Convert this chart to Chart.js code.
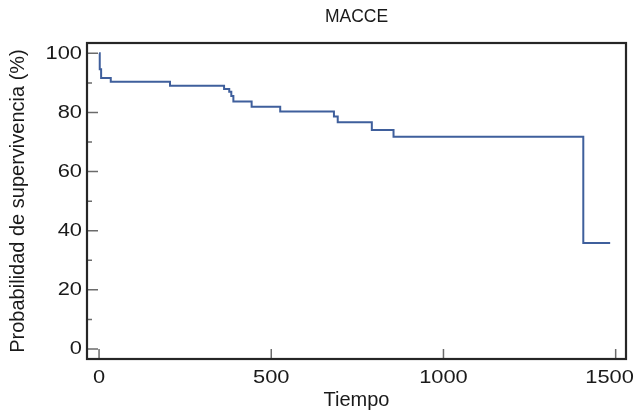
<!DOCTYPE html>
<html>
<head>
<meta charset="utf-8">
<script src="https://cdn.jsdelivr.net/npm/chart.js@4.4.0/dist/chart.umd.min.js"></script>
<style>
  html, body { margin: 0; padding: 0; background: #fff; }
</style>
</head>
<body>
<canvas id="kmChart" width="634" height="412"></canvas>
<script>
const chartTitle = "MACCE";
const xLabel = "Tiempo";
const yLabel = "Probabilidad de supervivencia (%)";

// Kaplan-Meier steps
const times =    [0,   2,    6,    34,   206,  363,  378,  384,  390,  443,  526,  682,  693,  792,  855,  1406, 1484];
const survival = [100, 94.6, 91.7, 90.4, 89.0, 87.9, 87.0, 85.6, 83.7, 81.9, 80.3, 78.6, 76.7, 74.1, 71.8, 35.8, 35.8];

const xTicks = [0, 500, 1000, 1500];
const yTicks = [0, 20, 40, 60, 80, 100];
const yMinorTicks = [10, 30, 50, 70, 90];

const FONT = "'Liberation Sans', Arial, sans-serif";
const TICK_SIZE = 19;   // tick numbers are a bit wide in the picture
const TICK_STRETCH = 1.15;

// keep the plot box where it is in the picture, whatever the label overhang
const noOverhang = s => { s.paddingLeft = 0; s.paddingRight = 0; s.paddingTop = 0; s.paddingBottom = 0; };

// widen the tick numbers only (they are the only text in the 19px font)
const stretchPlugin = {
  id: "stretch",
  beforeDraw(chart) {
    const ctx = chart.ctx;
    if (ctx._stretched) return;
    const fill = ctx.fillText;
    ctx.fillText = function (text, x, y, maxWidth) {
      if (this.font.indexOf(TICK_SIZE + "px") < 0) return fill.call(this, text, x, y, maxWidth);
      this.save();
      this.translate(x, y);
      this.scale(TICK_STRETCH, 1);
      fill.call(this, text, 0, 0);
      this.restore();
    };
    ctx._stretched = true;
  }
};

// frame and inward tick marks
const framePlugin = {
  id: "frame",
  afterDraw(chart) {
    const { ctx, chartArea: a, scales } = chart;
    ctx.save();
    ctx.strokeStyle = "#6b6b6b";
    ctx.lineWidth = 1.5;
    ctx.beginPath();
    yTicks.forEach(v => {
      const y = scales.y.getPixelForValue(v);
      ctx.moveTo(a.left, y);
      ctx.lineTo(a.left + 11, y);
    });
    yMinorTicks.forEach(v => {
      const y = scales.y.getPixelForValue(v);
      ctx.moveTo(a.left, y);
      ctx.lineTo(a.left + 5, y);
    });
    xTicks.forEach(v => {
      const x = scales.x.getPixelForValue(v);
      ctx.moveTo(x, a.bottom);
      ctx.lineTo(x, a.bottom - 10);
    });
    ctx.stroke();
    ctx.strokeStyle = "#262626";
    ctx.lineWidth = 2.2;
    ctx.strokeRect(a.left, a.top, a.right - a.left, a.bottom - a.top);
    ctx.restore();
  }
};

new Chart(document.getElementById("kmChart"), {
  type: "line",
  data: {
    datasets: [{
      data: times.map((t, i) => ({ x: t, y: survival[i] })),
      borderColor: "#3f5f9c",
      borderWidth: 2,
      stepped: true,
      pointRadius: 0,
      fill: false
    }]
  },
  options: {
    responsive: false,
    animation: false,
    devicePixelRatio: 1,
    layout: { padding: { left: 0, right: 8, top: 0, bottom: 0 } },
    plugins: {
      legend: { display: false },
      tooltip: { enabled: false },
      title: { display: false }
    },
    scales: {
      x: {
        type: "linear",
        position: "bottom",
        min: -35,
        max: 1530,
        afterBuildTicks: s => { s.ticks = xTicks.map(v => ({ value: v })); },
        afterFit: s => { s.height = 53; noOverhang(s); },
        grid: { display: false, drawTicks: false },
        border: { display: false },
        ticks: {
          color: "#1a1a1a", padding: 7.5, maxRotation: 0, autoSkip: false,
          font: { family: FONT, size: TICK_SIZE },
          // the last label sits a little left so it stays inside the picture
          callback: v => (v === 1500 ? v + "  " : String(v))
        },
        title: { display: true, text: xLabel, color: "#1a1a1a", padding: { top: 0, bottom: 0 }, font: { family: FONT, size: 20 } }
      },
      top: {
        type: "linear",
        position: "top",
        min: -35,
        max: 1530,
        afterFit: s => { s.height = 43; noOverhang(s); },
        grid: { display: false, drawTicks: false },
        border: { display: false },
        ticks: { display: false },
        title: { display: true, text: chartTitle, color: "#1a1a1a", padding: { top: 7, bottom: 0 }, font: { family: FONT, size: 17.5 } }
      },
      y: {
        type: "linear",
        min: -3.4,
        max: 103.5,
        afterBuildTicks: s => { s.ticks = yTicks.map(v => ({ value: v })); },
        afterFit: s => { s.width = 87; noOverhang(s); },
        grid: { display: false, drawTicks: false },
        border: { display: false },
        ticks: { color: "#1a1a1a", padding: 5, font: { family: FONT, size: TICK_SIZE } },
        title: { display: true, text: yLabel, color: "#1a1a1a", padding: { top: 6, bottom: 0 }, font: { family: FONT, size: 20 } }
      }
    }
  },
  plugins: [stretchPlugin, framePlugin]
});
</script>
</body>
</html>
